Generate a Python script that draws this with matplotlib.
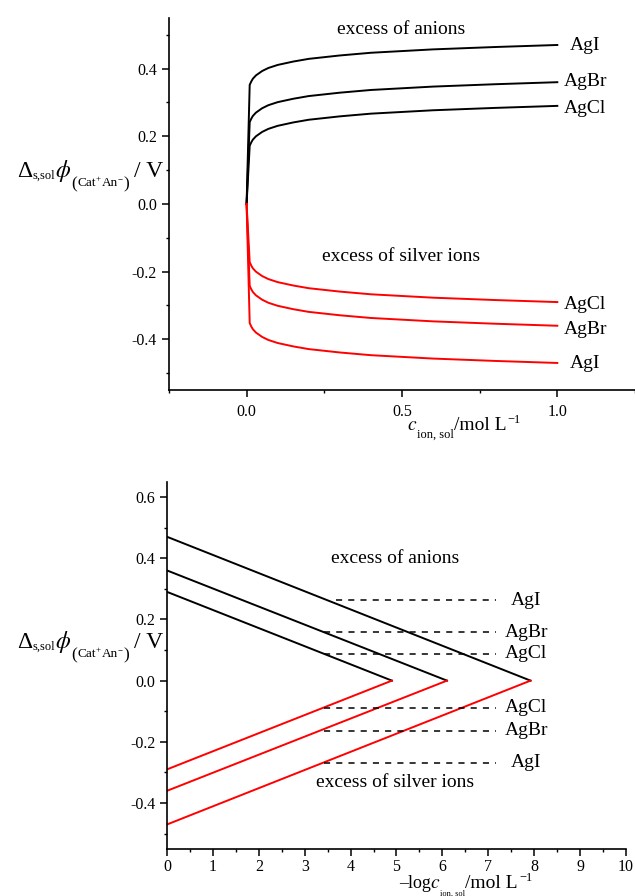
import matplotlib
matplotlib.use("Agg")
import matplotlib.pyplot as plt
from matplotlib.ticker import MultipleLocator

plt.rcParams["font.family"] = ["Liberation Serif", "DejaVu Serif"]
plt.rcParams["mathtext.fontset"] = "stix"
plt.rcParams["axes.unicode_minus"] = False

# top panel: potential vs concentration
conc = [0, 0.01, 0.015, 0.02, 0.03, 0.05, 0.07, 0.1, 0.15, 0.2, 0.3, 0.4, 0.5, 0.6, 0.8, 1.0]
anion_agi = [0, 0.352, 0.362, 0.370, 0.380, 0.393, 0.402, 0.411, 0.421, 0.429, 0.439, 0.447, 0.452, 0.457, 0.464, 0.470]
anion_agbr = [0, 0.242, 0.252, 0.260, 0.270, 0.283, 0.292, 0.301, 0.311, 0.319, 0.329, 0.337, 0.342, 0.347, 0.354, 0.360]
anion_agcl = [0, 0.172, 0.182, 0.190, 0.200, 0.213, 0.222, 0.231, 0.241, 0.249, 0.259, 0.267, 0.272, 0.277, 0.284, 0.290]
silver_agi = [0, -0.352, -0.362, -0.370, -0.380, -0.393, -0.402, -0.411, -0.421, -0.429, -0.439, -0.447, -0.452, -0.457, -0.464, -0.470]
silver_agbr = [0, -0.242, -0.252, -0.260, -0.270, -0.283, -0.292, -0.301, -0.311, -0.319, -0.329, -0.337, -0.342, -0.347, -0.354, -0.360]
silver_agcl = [0, -0.172, -0.182, -0.190, -0.200, -0.213, -0.222, -0.231, -0.241, -0.249, -0.259, -0.267, -0.272, -0.277, -0.284, -0.290]

salts = ["AgCl", "AgBr", "AgI"]
top_label_y_anion = [0.282, 0.362, 0.467]
top_label_y_silver = [-0.298, -0.371, -0.473]

# bottom panel: potential vs -log c
intercepts = [0.29, 0.36, 0.47]
zero_points = [4.9, 6.1, 7.92]
dash_y_anion = [0.088, 0.158, 0.262]
dash_y_silver = [-0.088, -0.163, -0.269]
dash_start_anion = [3.42, 3.42, 3.68]
dash_start_silver = [3.42, 3.42, 3.42]
dash_end = 7.17

W = 635.0
H = 896.0

fig = plt.figure(figsize=(6.35, 8.96), dpi=100)
ax1 = fig.add_axes([0.266, 0.5647, 0.734, 0.4153])
ax2 = fig.add_axes([0.263, 0.0525, 0.7228, 0.4099])
renderer = fig.canvas.get_renderer()


def pieced_label(x0, baseline, pieces):
    # pieces: (text, fontsize, dy in px (down is +), gap before in px)
    x = x0
    for txt, size, dy, gap in pieces:
        x += gap
        t = fig.text(x / W, 1 - (baseline + dy) / H, txt, fontsize=size,
                     ha="left", va="baseline")
        x = t.get_window_extent(renderer).x1


ylabel_pieces = [
    ("Δ", 17, 0, 0),
    ("s,sol", 9, 2, 0.5),
    (r"$\phi$", 17, 0, 0),
    ("(", 12.5, 11, 0),
    ("Cat", 9.5, 9, 0.5),
    ("+", 6.5, 4, 0),
    ("An", 9.5, 9, 0.5),
    ("−", 6.5, 4, 0),
    (")", 12.5, 11, 0.5),
    ("/ V", 17, 0, 5),
]
xlabel_top_pieces = [
    (r"$c$", 14, 0, 0),
    ("ion, sol", 9, 8, 0),
    ("/mol L", 14, 0, 0),
    ("−1", 9, -7, 1),
]
xlabel_bottom_pieces = [
    ("–log", 13, 0, 0),
    (r"$c$", 14, 0, -1),
    ("ion, sol", 6, 8, 0),
    ("/mol L", 14, 0, 0),
    ("−1", 9, -7, 1),
]

for ax in (ax1, ax2):
    ax.spines["top"].set_visible(False)
    ax.spines["right"].set_visible(False)
    ax.spines["left"].set_linewidth(1.2)
    ax.spines["bottom"].set_linewidth(1.2)
    ax.tick_params(which="major", direction="out", length=5, width=1.1, labelsize=11.5)
    ax.tick_params(which="minor", direction="out", length=2.5, width=1.0)
    ax.set_facecolor("none")

# ---- top
for y in (anion_agi, anion_agbr, anion_agcl):
    ax1.plot(conc, y, color="black", lw=1.4)
for y in (silver_agi, silver_agbr, silver_agcl):
    ax1.plot(conc, y, color="red", lw=1.4)

for name, ya, ys in zip(salts, top_label_y_anion, top_label_y_silver):
    ax1.text(1.09, ya, name, ha="center", va="center", fontsize=14)
    ax1.text(1.09, ys, name, ha="center", va="center", fontsize=14)
ax1.text(0.497, 0.515, "excess of anions", ha="center", va="center", fontsize=14)
ax1.text(0.497, -0.156, "excess of silver ions", ha="center", va="center", fontsize=14)

ax1.set_xlim(-0.25, 1.25)
ax1.set_ylim(-0.55, 0.55)
ax1.set_xticks([0.0, 0.5, 1.0])
ax1.set_xticklabels(["0.0", "0.5", "1.0"])
ax1.xaxis.set_minor_locator(MultipleLocator(0.25))
ax1.set_yticks([-0.4, -0.2, 0.0, 0.2, 0.4])
ax1.set_yticklabels(["-0.4", "-0.2", "0.0", "0.2", "0.4"])
ax1.yaxis.set_minor_locator(MultipleLocator(0.1))
ax1.tick_params(axis="x", pad=5)

# ---- bottom
for b, x0 in zip(intercepts, zero_points):
    ax2.plot([0, x0], [b, 0], color="black", lw=1.4)
    ax2.plot([x0, 0], [0, -b], color="red", lw=1.4)

for name, ya, ys, xa, xs in zip(salts, dash_y_anion, dash_y_silver, dash_start_anion, dash_start_silver):
    ax2.plot([xa, dash_end], [ya, ya], color="black", lw=1.1, ls=(0, (4, 4)))
    ax2.plot([xs, dash_end], [ys, ys], color="black", lw=1.1, ls=(0, (4, 4)))
    ax2.text(7.83, ya, name, ha="center", va="center", fontsize=14)
    ax2.text(7.83, ys, name, ha="center", va="center", fontsize=14)
ax2.text(4.96, 0.40, "excess of anions", ha="center", va="center", fontsize=14)
ax2.text(4.96, -0.332, "excess of silver ions", ha="center", va="center", fontsize=14)

ax2.set_xlim(0, 10)
ax2.set_ylim(-0.55, 0.65)
ax2.set_xticks(range(0, 11))
ax2.xaxis.set_minor_locator(MultipleLocator(0.5))
ax2.set_yticks([-0.4, -0.2, 0.0, 0.2, 0.4, 0.6])
ax2.set_yticklabels(["-0.4", "-0.2", "0.0", "0.2", "0.4", "0.6"])
ax2.yaxis.set_minor_locator(MultipleLocator(0.1))
ax2.tick_params(axis="x", pad=2.5)

# axis labels, built piece by piece at pixel positions
pieced_label(17, 177, ylabel_pieces)
pieced_label(17, 648, ylabel_pieces)
pieced_label(407, 430, xlabel_top_pieces)
pieced_label(399, 888, xlabel_bottom_pieces)

fig.savefig("out.png", dpi=100)
